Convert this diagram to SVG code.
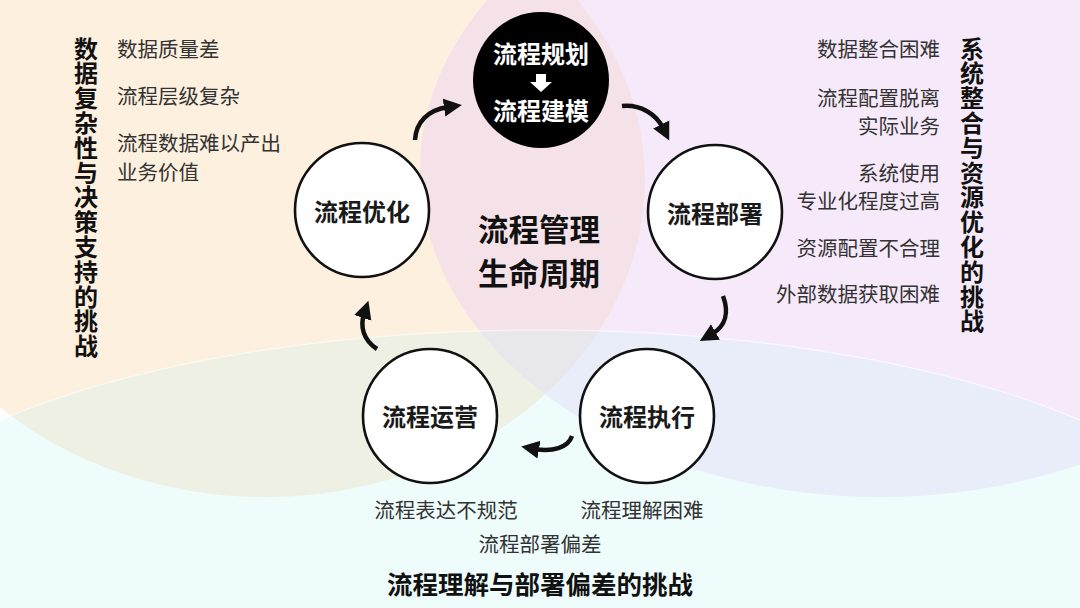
<svg xmlns="http://www.w3.org/2000/svg" width="1080" height="608" viewBox="0 0 1080 608">
<style>
.n{fill:#fff;stroke:#111;stroke-width:2.6}
.nt{font-family:"Noto Sans CJK SC",sans-serif;font-weight:700;font-size:24px;fill:#1a1a1a;text-anchor:middle;dominant-baseline:central}
.wt{font-family:"Noto Sans CJK SC",sans-serif;font-weight:700;font-size:24px;fill:#fff;text-anchor:middle;dominant-baseline:central}
.ct{font-family:"Noto Sans CJK SC",sans-serif;font-weight:700;font-size:30.5px;fill:#111;text-anchor:middle;dominant-baseline:central}
.lt{font-family:"Noto Sans CJK SC",sans-serif;font-weight:400;font-size:20.5px;fill:#333;dominant-baseline:central}
.vt{font-family:"Noto Sans CJK SC",sans-serif;font-weight:700;font-size:24px;fill:#111;text-anchor:middle;dominant-baseline:central}
.bt{font-family:"Noto Sans CJK SC",sans-serif;font-weight:700;font-size:25.5px;fill:#111;text-anchor:middle;dominant-baseline:central}
.arr{fill:none;stroke:#111;stroke-width:4.5;stroke-linecap:butt;marker-end:url(#ah)}
</style>
<defs>
<clipPath id="cO"><ellipse cx="265" cy="180" rx="380" ry="317"/></clipPath>
<clipPath id="cP"><ellipse cx="880" cy="170" rx="460" ry="327"/></clipPath>
<marker id="ah" markerUnits="userSpaceOnUse" markerWidth="20" markerHeight="20" viewBox="0 0 20 20" refX="4" refY="10" orient="auto">
<path d="M0,1 L18,10 L0,19 z" fill="#111"/>
</marker>
</defs>
<g id="background">
<rect width="1080" height="608" fill="#ffffff"/>
<ellipse cx="265" cy="180" rx="380" ry="317" fill="#FDF0DF"/>
<ellipse cx="880" cy="170" rx="460" ry="327" fill="#F6EAFA"/>
<ellipse cx="540" cy="578" rx="700" ry="248" fill="#EEFCFC"/>
<g clip-path="url(#cO)"><ellipse cx="880" cy="170" rx="460" ry="327" fill="#F5E2E9"/></g>
<g clip-path="url(#cO)"><ellipse cx="540" cy="578" rx="700" ry="248" fill="#EEF0E3"/></g>
<g clip-path="url(#cP)"><ellipse cx="540" cy="578" rx="700" ry="248" fill="#E9EDFA"/></g>
<g clip-path="url(#cO)"><g clip-path="url(#cP)"><ellipse cx="540" cy="578" rx="700" ry="248" fill="#E7E7EC"/></g></g>
<ellipse cx="540" cy="578" rx="700" ry="248" fill="none" stroke="#fff" stroke-opacity="0.5" stroke-width="1.5"/>
</g>
<g id="connectors">
<path class="arr" d="M415,140 C416,122 428,110 448,107"/>
<path class="arr" d="M622,106 C640,104 656,114 663,128"/>
<path class="arr" d="M723,296 C729,312 726,326 712,334"/>
<path class="arr" d="M572,436 C568,448 552,452 535,449"/>
<path class="arr" d="M377,349 C363,340 360,326 364,314"/>
</g>
<g id="node-plan">
<circle cx="541" cy="80" r="68" fill="#000"/>
<text class="wt" x="541" y="52">流程规划</text>
<polygon points="536,74 546,74 546,82 552,82 541,92 530,82 536,82" fill="#fff"/>
<text class="wt" x="541" y="109">流程建模</text>
</g>
<g id="node-deploy">
<circle class="n" cx="715" cy="212" r="67"/>
<text class="nt" x="715" y="212">流程部署</text>
</g>
<g id="node-execute">
<circle class="n" cx="647" cy="416" r="67"/>
<text class="nt" x="647" y="415">流程执行</text>
</g>
<g id="node-operate">
<circle class="n" cx="430" cy="416" r="67"/>
<text class="nt" x="430" y="415">流程运营</text>
</g>
<g id="node-optimize">
<circle class="n" cx="362" cy="210" r="67"/>
<text class="nt" x="362" y="210">流程优化</text>
</g>
<g id="center-label">
<text class="ct" x="539" y="228">流程管理</text>
<text class="ct" x="539" y="272">生命周期</text>
</g>
<g id="left-group">
<text class="vt" x="86 86 86 86 86 86 86 86 86 86 86 86 86" y="47 71.8 96.6 121.4 146.2 171 195.8 220.6 245.4 270.2 295 319.8 344.6">数据复杂性与决策支持的挑战</text>
<text class="lt" x="117" y="48">数据质量差</text>
<text class="lt" x="117" y="95">流程层级复杂</text>
<text class="lt" x="117" y="142">流程数据难以产出</text>
<text class="lt" x="117" y="171">业务价值</text>
</g>
<g id="right-group">
<text class="vt" x="972 972 972 972 972 972 972 972 972 972 972 972" y="47 71.8 96.6 121.4 146.2 171 195.8 220.6 245.4 270.2 295 319.8">系统整合与资源优化的挑战</text>
<text class="lt" x="940" y="48" text-anchor="end">数据整合困难</text>
<text class="lt" x="940" y="97" text-anchor="end">流程配置脱离</text>
<text class="lt" x="940" y="125" text-anchor="end">实际业务</text>
<text class="lt" x="940" y="172" text-anchor="end">系统使用</text>
<text class="lt" x="940" y="200" text-anchor="end">专业化程度过高</text>
<text class="lt" x="940" y="247" text-anchor="end">资源配置不合理</text>
<text class="lt" x="940" y="293" text-anchor="end">外部数据获取困难</text>
</g>
<g id="bottom-group">
<text class="lt" x="446" y="509" text-anchor="middle">流程表达不规范</text>
<text class="lt" x="642" y="509" text-anchor="middle">流程理解困难</text>
<text class="lt" x="540" y="543" text-anchor="middle">流程部署偏差</text>
<text class="bt" x="540" y="582">流程理解与部署偏差的挑战</text>
</g>
</svg>
